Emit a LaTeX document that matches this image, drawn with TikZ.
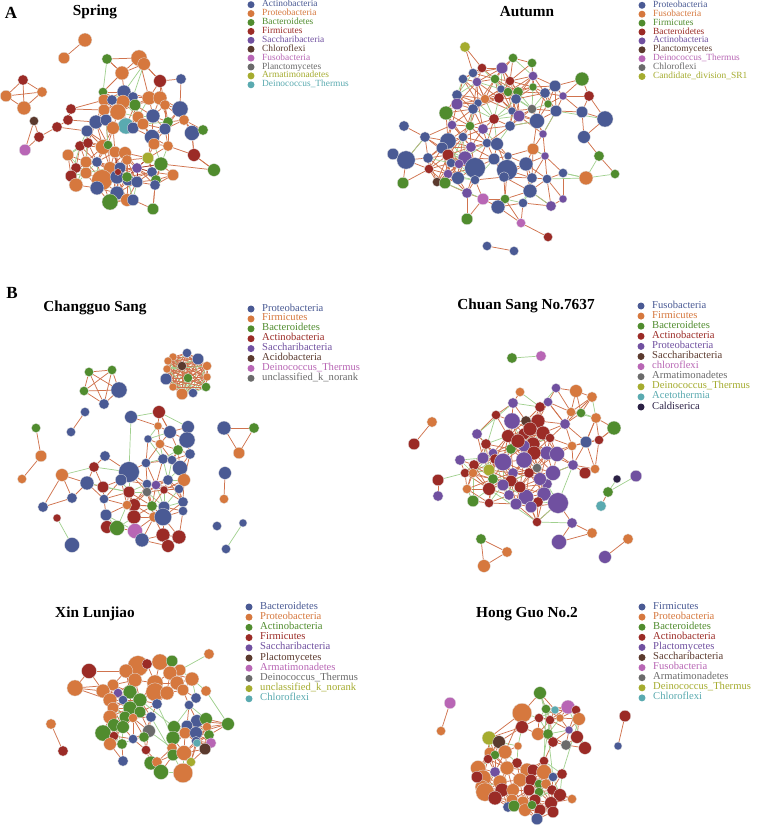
\documentclass[tikz,border=0pt]{standalone}
\usepackage{fontspec}
\setmainfont{Liberation Serif}
\definecolor{cB}{RGB}{74,90,148}
\definecolor{cO}{RGB}{214,120,62}
\definecolor{cG}{RGB}{80,140,46}
\definecolor{cR}{RGB}{155,43,38}
\definecolor{cP}{RGB}{112,80,160}
\definecolor{cBr}{RGB}{91,58,46}
\definecolor{cPk}{RGB}{184,102,181}
\definecolor{cGy}{RGB}{107,107,107}
\definecolor{cOl}{RGB}{165,172,47}
\definecolor{cTl}{RGB}{90,170,176}
\definecolor{cNv}{RGB}{43,33,69}
\definecolor{eO}{RGB}{208,115,78}
\definecolor{eG}{RGB}{160,208,142}
\pgfdeclarelayer{bg}
\pgfdeclarelayer{edgelayer}
\pgfsetlayers{bg,edgelayer,main}
\tikzset{
  dot/.style={circle, inner sep=0pt, draw=white!80!gray, line width=0.3pt},
  ldot/.style={circle, inner sep=0pt, minimum size=7pt},
  ltext/.style={anchor=west, inner sep=0pt, text height=5.9pt, text depth=1.8pt, font=\fontsize{10.6}{11}\selectfont},
  ltextA/.style={ltext, font=\fontsize{9.4}{10}\selectfont},
  ttl/.style={inner sep=0pt, font=\fontsize{15.3}{16}\selectfont\bfseries},
  plabel/.style={inner sep=0pt, font=\fontsize{17}{18}\selectfont\bfseries},
  oe/.style={draw=eO, line width=0.75pt},
  ge/.style={draw=eG, line width=0.7pt},
  redge/.style={draw=cR, line width=0.45pt},
}
\newcommand\placedots[1]{\foreach \dn/\dx/\dy/\dq/\dk in #1 {\node[dot, fill=\dk, minimum size={2.3*\dq*1pt}] (\dn) at (\dx,\dy) {};}}
\newcommand\autoedges[2]{%
  \foreach \na/\xa/\ya/\ra/\ca [count=\ia] in #1 {%
    \foreach \nb/\xb/\yb/\rb/\cb [count=\ib] in #1 {%
      \ifnum\ib>\ia\relax
        \pgfmathsetmacro\dd{veclen(\xb-\xa,\yb-\ya)}%
        \ifdim\dd pt<#2pt\relax
          \pgfmathtruncatemacro\sel{mod(\ia*7+\ib*11,7)}%
          \ifnum\sel=0\relax \draw[ge] (\na)--(\nb); \else \draw[oe] (\na)--(\nb); \fi
        \fi
      \fi}}}
\newcommand\edgelist[2]{\foreach \ea/\eb in {#2} {\draw[#1] (\ea)--(\eb);}}
\newcommand\legendbox[6]{%
  \foreach \lc/\lt [count=\lk] in {#6} {%
    \node[ldot, fill=\lc] (#1d\lk) at (#2,{#3+(\lk-1)*#4}) {};
    \node[#5, text=\lc] (#1t\lk) at ({#2+11},{#3+(\lk-1)*#4}) {\lt};
  }}
% ---------------- node data ----------------
\def\SpM{s3/107/59/4.5/cG, s4/139/58/7/cO, s5/144/64/5.5/cO, s6/122/73/6/cO, s7/160/81/5.5/cR, s8/181/79/4.5/cB,
 s19/103/92/4/cG, s20/124/92/6/cB, s21/149/98/6/cO, s22/160/98/6/cO, s23/133/97/4.5/cB, s24/104/100/5/cO,
 s25/123/102/6/cO, s26/112/100/4.5/cB, s27/135/105/5/cG, s28/165/105/4.5/cO, s29/180/109/7/cB, s30/104/110/5/cO,
 s31/118/112/7/cO, s32/153/116/6/cB, s33/138/117/5/cO, s34/184/120/4.5/cO, s35/168/122/4.5/cG, s36/96/122/6/cB,
 s37/106/120/5/cB, s38/126/126/7/cTl, s39/133/128/5/cB, s40/143/124/5/cO, s41/165/129/5/cB, s42/192/133/6.5/cB,
 s43/203/130/4.5/cG, s44/87/131/5/cB, s45/152/137/6.5/cB, s46/113/128/5.5/cO, s47/80/146/4.5/cR, s48/88/143/4.5/cR,
 s49/103/147/6.5/cO, s50/108/145/4/cG, s51/154/144/5/cO, s52/168/146/4.5/cO, s53/194/155/5.5/cR, s54/68/155/5/cO,
 s55/115/152/5/cO, s56/125/153/5.5/cO, s57/148/158/5/cOl, s58/127/160/4.5/cO, s59/86/162/5/cO, s60/76/168/4.5/cR,
 s61/161/164/6/cG, s62/214/170/5.5/cG, s63/97/162/4.5/cB, s64/110/168/5.5/cO, s65/137/168/4.5/cP, s66/173/175/5/cO,
 s67/71/176/5/cR, s68/86/173/5/cO, s69/120/168/5/cB, s70/102/180/9/cO, s71/117/177/6/cB, s72/128/180/5/cB,
 s73/152/172/4.5/cB, s74/156/180/4.5/cG, s75/76/185/6/cO, s76/137/182/5/cB, s77/117/193/6/cB, s78/97/188/6/cB,
 s79/127/177/4.5/cG, s80/155/185/4.5/cB, s81/127/200/5.5/cO, s82/133/200/5/cB, s83/110/202/7/cG, s84/153/209/5/cG,
 s85/118/172/3/cR}
\def\SpQ{s9/23/80/4.5/cR, s10/42/92/4.5/cO, s11/6/96/5/cO, s12/24/108/6/cO}
\def\SpX{s1/85/40/6/cO, s2/64/58/5/cO, s13/71/109/4.5/cR, s14/34/121/4/cBr, s15/68/120/4.5/cR, s16/57/127/4.5/cR,
 s17/39/137/4.5/cR, s18/25/150/5/cPk}
\def\AuM{a1/465/47/4.5/cOl, a2/513/58/4/cG, a3/532/63/4/cG, a4/482/68/4/cR, a5/502/68/5/cP, a6/473/73/4/cB,
 a7/533/76/4/cP, a8/463/79/4/cB, a9/495/79/4/cG, a10/477/82/4/cP, a11/510/81/4/cR, a12/582/79/6/cG,
 a13/555/86/5/cB, a14/501/89/3.5/cB, a15/508/92/4/cG, a16/518/92/4.5/cG, a17/533/87/3.5/cG, a18/545/93/4.5/cB,
 a19/563/96/3.5/cP, a20/589/96/4.5/cR, a21/457/95/4.5/cB, a22/485/99/4/cO, a23/499/98/4.5/cR, a24/516/99/4.5/cB,
 a25/478/103/3.5/cB, a26/457/104/5/cP, a27/548/104/3.5/cG, a28/532/109/4/cGy, a29/473/109/4.5/cB, a30/556/111/5/cB,
 a31/582/112/5/cB, a32/446/113/6/cG, a33/512/111/3.5/cB, a34/519/116/5/cP, a35/494/119/4.5/cR, a36/537/121/6.5/cB,
 a37/605/119/7/cB, a38/452/125/4/cP, a39/470/126/4/cG, a40/483/129/4.5/cP, a41/510/126/4.5/cB, a42/404/126/4.5/cB,
 a43/543/134/3.5/cP, a44/584/137/5.5/cB, a45/425/137/4.5/cB, a46/448/141/7/cB, a47/463/137/4/cB, a48/487/143/4/cB,
 a49/497/144/5.5/cB, a50/471/147/4.5/cP, a51/442/148/5/cB, a52/533/149/5/cO, a53/393/154/5/cB, a54/406/160/8/cB,
 a55/448/155/5/cR, a56/465/158/6/cP, a57/428/158/4.5/cB, a58/508/156/3.5/cB, a59/545/156/3.5/cP, a60/599/156/4.5/cG,
 a61/494/159/5/cB, a62/526/164/6/cB, a63/451/163/4/cB, a64/459/164/4/cP, a65/475/168/9/cB, a66/507/170/9/cB,
 a67/429/169/4/cR, a68/563/173/4/cB, a69/615/174/4/cG, a70/586/178/6/cO, a71/448/174/4/cP, a72/458/178/5.5/cB,
 a73/532/178/4.5/cB, a74/547/179/4/cB, a75/437/182/4/cBr, a76/445/183/5/cG, a77/475/180/4/cB, a78/403/183/5/cG,
 a79/504/177/4.5/cB, a80/530/191/6/cB, a81/467/193/4.5/cP, a82/483/199/5/cPk, a83/505/199/4/cG, a84/523/203/4/cB,
 a85/551/206/4.5/cP, a86/563/199/3.5/cP, a87/498/207/6/cB, a88/467/219/5/cG, a89/521/223/4/cPk}
\def\AuX{a90/548/237/4/cR, a91/487/246/4/cB, a92/514/251/4/cB}
\def\CgCore{c1/187/353/4/cB, c2/173/357/3.5/cO, c3/198/359/5/cB, c4/168/361/3.5/cO, c5/182/366/4/cBr, c6/207/366/4/cO,
 c7/167/369/3.5/cO, c8/207/377/3.5/cO, c9/188/378/4/cG, c10/166/379/5/cB, c11/206/387/4/cG, c12/173/387/3.5/cO,
 c13/182/394/5/cO, c14/193/393/4/cB}
\def\CgPent{c16/89/372/4/cG, c17/112/370/4/cG, c18/84/391/4/cG, c19/119/390/7/cB, c20/104/404/4.5/cB}
\def\CgMain{c26/131/417/5.5/cB, c27/159/412/5.5/cR, c28/158/426/3.5/cO, c29/188/427/5.5/cB, c30/170/432/5.5/cB,
 c31/187/440/7/cB, c32/148/439/3.5/cB, c33/160/444/4/cO, c34/178/450/4.5/cG, c35/190/454/4.5/cB, c39/105/456/4.5/cB,
 c40/94/467/4.5/cR, c41/146/463/4/cB, c42/163/459/4.5/cB, c43/172/460/4/cB, c44/129/472/9/cB, c45/180/468/6.5/cB,
 c47/87/483/6/cB, c48/121/480/5/cB, c49/184/480/5.5/cO, c50/168/480/4.5/cB, c51/103/487/5/cR, c52/147/484/4/cB,
 c53/156/485/4/cP, c54/147/492/4/cGy, c55/164/490/3.5/cR, c56/179/489/4/cB, c57/129/492/5/cR, c59/72/498/4.5/cB,
 c60/104/499/4/cB, c62/183/502/4.5/cB, c63/134/505/5.5/cR, c64/127/505/4/cO, c65/152/506/4.5/cG, c66/164/507/5/cB,
 c68/183/511/4/cB, c69/106/515/5/cB, c70/134/517/6/cR, c71/154/517/4.5/cO, c72/163/517/7.5/cB, c74/107/527/5.5/cR,
 c75/117/528/6.5/cG, c76/135/531/6.5/cPk, c77/142/540/6/cB, c78/163/535/6/cR, c79/179/537/6/cR, c80/168/546/5.5/cR}
\def\CgX{c21/85/412/4/cB, c22/71/432/4/cB, c23/36/428/4/cG, c24/41/456/5/cO, c25/22/479/4/cO, c36/224/428/6/cB,
 c37/254/428/4.5/cG, c38/239/453/5/cO, c46/62/475/5.5/cO, c58/225/473/5.5/cB, c61/224/499/4/cO, c67/43/507/4.5/cB,
 c73/57/518/3.5/cR, c81/72/545/6.5/cB, c82/217/526/4/cB, c83/243/523/3.5/cB, c84/226/549/4/cB}
\def\CsM{u3/556/388/4/cP, u4/576/391/5.5/cO, u5/520/392/4/cO, u6/592/397/4.5/cO, u7/513/403/4.5/cP, u8/548/402/4/cP,
 u9/540/407/4.5/cR, u10/496/415/4/cR, u11/571/412/4/cO, u12/581/413/4/cG, u14/512/421/7/cP, u15/526/421/4.5/cBr,
 u16/538/421/6/cR, u17/596/418/4.5/cO, u18/614/428/6/cG, u19/565/424/4.5/cP, u20/477/434/4.5/cP, u21/508/436/5.5/cR,
 u22/524/434/5/cR, u23/543/433/6/cR, u25/486/444/4.5/cR, u26/586/442/5/cB, u27/599/440/4/cR, u28/572/446/4/cO,
 u29/550/438/4/cR, u30/511/449/4.5/cG, u31/533/444/6/cR, u32/524/446/5/cP, u33/547/453/6/cP, u34/557/454/6.5/cP,
 u35/493/453/4/cP, u36/534/453/6/cR, u37/483/458/5/cP, u38/495/459/4.5/cR, u39/460/460/4.5/cP, u40/503/462/7.5/cP,
 u41/524/460/7/cP, u42/573/465/4.5/cP, u43/474/465/4.5/cR, u44/489/470/5/cOl, u45/465/473/4/cR, u46/473/473/4/cO,
 u47/537/468/4/cGy, u48/529/473/4.5/cR, u49/513/473/4.5/cP, u50/553/473/6.5/cP, u51/585/473/5/cR, u52/595/469/4/cO,
 u53/438/480/5/cR, u54/493/479/4.5/cG, u55/511/481/5/cR, u58/467/489/4/cO, u59/489/489/5.5/cR, u60/547/484/4.5/cP,
 u62/438/496/4.5/cP, u63/473/501/5/cG, u64/489/503/4/cR, u65/509/495/4.5/cP, u66/526/497/6.5/cP, u67/544/494/6/cP,
 u68/516/504/5/cP, u69/538/502/4.5/cR, u70/558/503/9/cP, u71/531/507/5/cP, u73/537/522/4/cR,
 u82/530/429/6/cR, u83/518/441/6/cR, u84/540/479/5.5/cP, u85/520/487/5/cR, u86/503/485/5/cP}
\def\CsX{u1/512/358/4.5/cG, u2/541/356/4.5/cPk, u13/432/422/4.5/cO, u24/414/444/5/cR, u56/617/479/3.5/cNv,
 u57/636/476/5/cP, u61/608/492/4.5/cG, u72/601/506/4.5/cTl, u74/572/523/4.5/cP, u75/592/533/4.5/cO, u76/559/542/6.5/cP,
 u77/481/539/4.5/cG, u78/507/552/4.5/cO, u79/484/566/5.5/cO, u80/628/539/4.5/cO, u81/605/557/5.5/cP}
\def\XlM{x8/138/666/9/cO, x9/160/662/7/cO, x10/172/661/5/cG, x11/126/671/6/cO, x71/147/664/4.5/cR, x13/180/670/5/cO,
 x14/192/679/6/cO, x15/170/673/6/cO, x16/135/680/6/cO, x17/155/683/7/cO, x18/177/683/6/cO, x19/113/685/5/cO,
 x20/103/691/6/cO, x21/155/692/8/cO, x22/167/693/6/cO, x23/118/693/4/cP, x24/130/692/6/cG, x25/123/700/4/cB,
 x26/140/700/6/cG, x27/110/700/6/cO, x28/196/698/4.5/cB, x29/189/705/4/cB, x30/183/690/5/cO, x31/130/708/6/cG,
 x32/113/708/5/cO, x33/110/717/6/cO, x34/151/717/4.5/cB, x35/125/717/5/cG, x36/140/712/5/cG, x37/157/704/4.5/cB,
 x38/133/718/4/cO, x39/114/725/5.5/cG, x40/123/727/5.5/cG, x41/197/721/5.5/cB, x42/206/719/5.5/cG, x43/187/726/5/cB,
 x44/207/727/4/cO, x45/149/731/5.5/cGy, x46/174/727/5.5/cG, x47/103/733/7/cG, x48/185/733/5/cO, x49/196/733/5.5/cB,
 x50/209/735/4.5/cG, x51/144/737/4.5/cG, x52/133/739/4/cB, x53/173/738/6/cG, x54/114/736/4/cR, x55/110/744/5.5/cO,
 x56/122/744/4.5/cG, x57/196/741/4/cB, x58/197/743/3.5/cTl, x59/211/743/4.5/cPk, x60/172/748/4.5/cO, x61/205/749/5/cBr,
 x62/146/750/4/cR, x63/173/755/5/cG, x64/184/753/6.5/cO, x65/123/761/4.5/cB, x66/151/763/6/cG, x67/157/762/4.5/cO,
 x68/191/762/4/cOl, x69/161/772/6.5/cG, x70/183/773/8.5/cO}
\def\XlX{x1/209/654/4.5/cO, x2/89/671/6.5/cR, x3/75/688/7/cO, x4/206/691/4.5/cO, x5/51/724/4.5/cO, x6/63/751/4.5/cR,
 x7/228/724/5.5/cG}
\def\HgM{h5/540/693/5.5/cG, h6/568/707/6/cPk, h7/555/710/3.5/cTl, h8/546/709/4/cG, h9/576/710/4/cR, h10/522/713/8.5/cO,
 h11/539/718/4/cR, h12/579/719/5.5/cO, h13/550/720/4/cR, h14/522/727/5.5/cR, h15/560/718/3.5/cO, h16/569/730/3.5/cP,
 h17/538/734/5.5/cO, h18/548/734/4.5/cG, h19/577/737/5.5/cR, h20/489/738/6/cOl, h21/499/742/5.5/cBr, h22/553/742/4.5/cR,
 h23/566/745/4.5/cGy, h24/585/748/5.5/cR, h25/518/746/3.5/cO, h26/505/752/6/cO, h27/490/753/5/cO, h28/495/755/4/cG,
 h29/488/759/4/cR, h30/544/761/4/cR, h31/478/768/6.5/cO, h32/517/763/4.5/cR, h33/495/772/4.5/cP, h34/507/768/6/cO,
 h35/527/770/6/cO, h36/533/770/5/cR, h37/544/772/6.5/cO, h38/553/777/4/cB, h39/562/774/4.5/cR, h40/483/778/7/cO,
 h41/500/782/6/cO, h42/520/780/6/cO, h43/531/780/5/cR, h44/539/784/4/cG, h45/546/784/4.5/cO, h46/482/787/6/cO,
 h47/485/792/8/cO, h48/502/790/6/cR, h49/513/790/5.5/cO, h50/529/790/5/cR, h51/539/792/4/cG, h52/552/790/4.5/cR,
 h53/560/795/5.5/cR, h54/572/799/4/cO, h55/495/798/6/cR, h56/512/800/5/cO, h57/523/802/5/cO, h58/508/807/4.5/cB,
 h59/514/806/5/cG, h60/535/800/5/cR, h61/551/803/5.5/cR, h62/525/810/5.5/cO, h63/540/810/5/cR, h64/553/812/5/cR,
 h65/537/819/5/cB, h66/532/805/4/cG, h67/477/777/5/cR}
\def\HgX{h1/450/703/5/cPk, h2/441/731/4/cO, h3/625/716/5/cR, h4/618/746/3.5/cB}
\begin{document}
\begin{tikzpicture}[x=1pt,y=-1pt]
\begin{pgfonlayer}{bg}
\fill[white] (0,0) rectangle (759,826);
\end{pgfonlayer}
\useasboundingbox (0,0) rectangle (759,826);
% titles
\node[plabel] (labA) at (11,13) {A};
\node[ttl] (tSpring) at (95,12) {Spring};
\node[ttl] (tAutumn) at (527,12) {Autumn};
\node[plabel] (labB) at (12,293) {B};
\node[ttl] (tCg) at (95,308) {Changguo Sang};
\node[ttl] (tCs) at (526,306) {Chuan Sang No.7637};
\node[ttl] (tXl) at (95,614) {Xin Lunjiao};
\node[ttl] (tHg) at (527,614) {Hong Guo No.2};
% legends
\legendbox{lsp}{251}{4.7}{8.9}{ltextA}{cB/Actinobacteria, cO/Proteobacteria, cG/Bacteroidetes, cR/Firmicutes, cP/Saccharibacteria, cBr/Chloroflexi, cPk/Fusobacteria, cGy/Planctomycetes, cOl/Armatimonadetes, cTl/Deinococcus\_Thermus}
\legendbox{lau}{642}{5.3}{8.9}{ltextA}{cB/Proteobacteria, cO/Fusobacteria, cG/Firmicutes, cR/Bacteroidetes, cP/Actinobacteria, cBr/Planctomycetes, cPk/Deinococcus\_Thermus, cGy/Chloroflexi, cOl/Candidate\_division\_SR1}
\legendbox{lcg}{251}{309}{9.9}{ltext}{cB/Proteobacteria, cO/Firmicutes, cG/Bacteroidetes, cR/Actinobacteria, cP/Saccharibacteria, cBr/Acidobacteria, cPk/Deinococcus\_Thermus, cGy/unclassified\_k\_norank}
\legendbox{lcs}{641}{306}{10.1}{ltext}{cB/Fusobacteria, cO/Firmicutes, cG/Bacteroidetes, cR/Actinobacteria, cP/Proteobacteria, cBr/Saccharibacteria, cPk/chloroflexi, cGy/Armatimonadetes, cOl/Deinococcus\_Thermus, cTl/Acetothermia, cNv/Caldiserica}
\legendbox{lxl}{249}{607}{10.2}{ltext}{cB/Bacteroidetes, cO/Proteobacteria, cG/Actinobacteria, cR/Firmicutes, cP/Saccharibacteria, cBr/Plactomycetes, cPk/Armatimonadetes, cGy/Deinococcus\_Thermus, cOl/unclassified\_k\_norank, cTl/Chloroflexi}
\legendbox{lhg}{642}{607}{10.1}{ltext}{cB/Firmicutes, cO/Proteobacteria, cG/Bacteroidetes, cR/Actinobacteria, cP/Plactomycetes, cBr/Saccharibacteria, cPk/Fusobacteria, cGy/Armatimonadetes, cOl/Deinococcus\_Thermus, cTl/Chloroflexi}
% nodes
\placedots{\SpM}\placedots{\SpQ}\placedots{\SpX}
\placedots{\AuM}\placedots{\AuX}
\placedots{\CgCore}\placedots{\CgPent}\placedots{\CgMain}\placedots{\CgX}
\placedots{\CsM}\placedots{\CsX}
\placedots{\XlM}\placedots{\XlX}
\placedots{\HgM}\placedots{\HgX}
% edges
\begin{pgfonlayer}{edgelayer}
\autoedges{\SpM}{26}
\autoedges{\SpQ}{40}
\edgelist{oe}{s1/s2, s14/s17, s17/s18, s14/s18, s17/s16, s16/s15, s15/s13, s13/s30, s15/s36, s16/s44, s13/s24, s3/s4, s4/s7, s7/s22, s8/s29, s29/s42, s42/s43, s42/s53, s53/s62, s53/s52, s62/s61, s34/s29, s84/s80, s6/s19, s4/s21, s3/s6}
\edgelist{ge}{s5/s20, s3/s19, s5/s23, s44/s59, s47/s67, s59/s75, s60/s68, s63/s78, s37/s50, s20/s27}
\edgelist{redge}{s85/s58, s85/s69, s85/s64, s65/s73, s65/s76, s65/s57, s65/s61, s85/s55, s65/s79, s85/s72}
\autoedges{\AuM}{30}
\edgelist{oe}{a89/a90, a91/a92}
\edgelist{ge}{a30/a37, a45/a54, a70/a74, a68/a70, a80/a85, a76/a82, a52/a59, a43/a30, a41/a36, a39/a29, a32/a38}
\autoedges{\CgCore}{60}
\autoedges{\CgPent}{50}
\autoedges{\CgMain}{27}
\edgelist{oe}{c21/c22, c23/c24, c24/c25, c36/c37, c37/c38, c36/c38, c58/c61, c46/c47, c46/c59, c46/c67, c67/c59, c39/c44, c26/c28, c27/c30}
\edgelist{ge}{c83/c84, c73/c81, c46/c40, c26/c27, c40/c44, c26/c44, c47/c57, c69/c76, c27/c29}
\autoedges{\CsM}{29}
\edgelist{oe}{u13/u24, u77/u78, u78/u79, u77/u79, u80/u81, u61/u72, u74/u75, u74/u76, u75/u76, u70/u74, u18/u27, u27/u52, u17/u26, u6/u19, u8/u19, u53/u62}
\edgelist{ge}{u1/u2, u56/u61, u57/u61, u73/u74, u42/u70, u73/u70, u7/u20, u10/u37, u59/u73, u42/u50}
\autoedges{\XlM}{23}
\edgelist{oe}{x5/x6, x2/x3, x2/x11, x2/x20, x3/x20, x3/x19, x7/x42, x7/x44, x7/x50, x7/x41, x7/x49, x3/x27}
\edgelist{ge}{x1/x13, x4/x14, x4/x7, x37/x53, x28/x46, x26/x46, x34/x63, x45/x60}
\autoedges{\HgM}{23}
\edgelist{oe}{h1/h2, h3/h4, h20/h10, h5/h10, h20/h14, h21/h14, h10/h26}
\edgelist{ge}{h5/h22, h5/h13, h8/h30, h6/h24, h18/h38, h13/h44, h20/h27, h12/h39}
\end{pgfonlayer}
\end{tikzpicture}
\end{document}
